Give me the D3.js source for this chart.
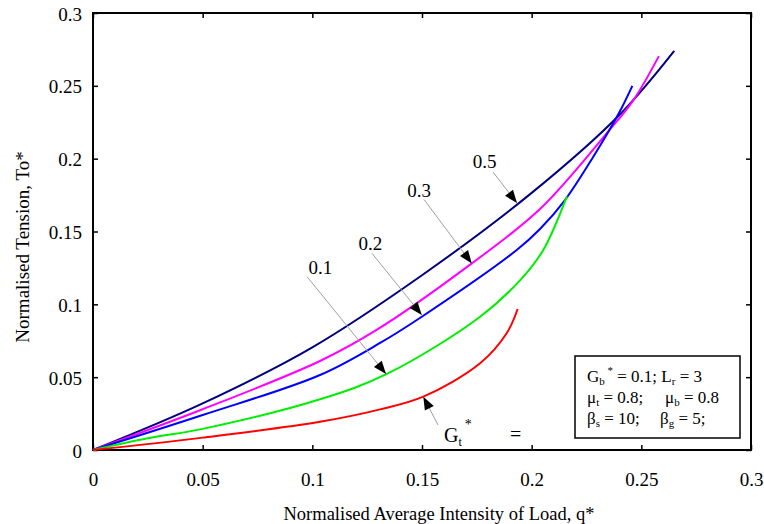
<!DOCTYPE html>
<html lang="en">
  <head>
    <meta charset="utf-8">
    <title>Normalised Tension vs Load</title>
    <script src="https://cdn.jsdelivr.net/npm/d3@7"></script>
    <style>
      body { margin: 0; background: #fff; }
      svg text { font-family: "Liberation Serif", "Times New Roman", Times, "Nimbus Roman", "Nimbus Roman No9 L", Tinos, FreeSerif, "Noto Serif", "DejaVu Serif", serif; fill: #000; }
    </style>
  </head>
  <body>
    <script>
      // curve data: [q*, To*]
      var navy = [[0,0],[0.05,0.032],[0.1,0.0705],[0.15,0.12],[0.2,0.1765],[0.24,0.23],[0.265,0.274]];
      var magenta = [[0,0],[0.05,0.028],[0.1035,0.0611],[0.1293,0.0824],[0.1727,0.1281],[0.2038,0.1654],[0.2342,0.2174],[0.2464,0.2402],[0.258,0.2704]];
      var blue = [[0,0],[0.05,0.024],[0.1035,0.0515],[0.1309,0.0735],[0.1499,0.0915],[0.1932,0.1373],[0.2038,0.1517],[0.2152,0.1716],[0.2281,0.2013],[0.2398,0.2313],[0.2459,0.25]];
      var green = [[0,0],[0.025,0.008],[0.05,0.0145],[0.1035,0.0348],[0.134,0.0522],[0.1765,0.0915],[0.195,0.117],[0.2053,0.1373],[0.2161,0.1743]];
      var red = [[0,0],[0.05,0.0085],[0.1035,0.0194],[0.1309,0.0279],[0.1506,0.0366],[0.1765,0.0595],[0.1886,0.0801],[0.1936,0.0968]];

      var seriesNames = ["0.5", "0.3", "0.2", "0.1", "0"];
      var seriesColors = ["#000080", "#ff00ff", "#0000ff", "#00ee00", "#ff0000"];
      var seriesData = [navy, magenta, blue, green, red];

      var xTicks = [0, 0.05, 0.1, 0.15, 0.2, 0.25, 0.3];
      var yTicks = [0, 0.05, 0.1, 0.15, 0.2, 0.25, 0.3];

      // arrow annotations: label pos, leader start, arrow tip (all in data units)
      var labelPos = [[0.1786, 0.1935], [0.1487, 0.1735], [0.1265, 0.1375], [0.1037, 0.1205]];
      var labelFrom = [[0.1824, 0.1908], [0.1509, 0.172], [0.1272, 0.135], [0.0976, 0.119]];
      var labelTip = [[0.1933, 0.1695], [0.1727, 0.1281], [0.1499, 0.0927], [0.1336, 0.0522]];

      const W = 764, H = 524;
      const L = 93, R = 751, T = 13, B = 450;

      var svg = d3.select("body").append("svg")
        .attr("width", W)
        .attr("height", H);

      var x = d3.scaleLinear().domain([0, 0.3]).range([L, R]);
      var y = d3.scaleLinear().domain([0, 0.3]).range([B, T]);

      var fmt = d3.format("");

      // axes with inward ticks
      var gx = svg.append("g").attr("transform", "translate(0," + B + ")")
        .call(d3.axisBottom(x).tickValues(xTicks).tickSize(-5).tickFormat(fmt));
      gx.attr("font-family", null).attr("font-size", 19);
      gx.selectAll("text").attr("y", 35.5).attr("dy", 0);

      var gy = svg.append("g").attr("transform", "translate(" + L + ",0)")
        .call(d3.axisLeft(y).tickValues(yTicks).tickSize(-5).tickFormat(fmt));
      gy.attr("font-family", null).attr("font-size", 19);
      gy.selectAll("text").attr("x", -11).attr("dy", "0.37em");

      svg.append("g").attr("transform", "translate(0," + T + ")")
        .call(d3.axisTop(x).tickValues(xTicks).tickSize(-5).tickFormat(""));
      svg.append("g").attr("transform", "translate(" + R + ",0)")
        .call(d3.axisRight(y).tickValues(yTicks).tickSize(-5).tickFormat(""));

      svg.selectAll(".domain").remove();
      svg.selectAll(".tick line").attr("stroke", "#000").attr("stroke-width", 1.5);

      svg.append("rect")
        .attr("x", L).attr("y", T)
        .attr("width", R - L).attr("height", B - T)
        .attr("fill", "none")
        .attr("stroke", "#000")
        .attr("stroke-width", 2);

      // curves
      var line = d3.line()
        .x(function(d){ return x(d[0]); })
        .y(function(d){ return y(d[1]); })
        .curve(d3.curveCatmullRom.alpha(0.5));

      svg.selectAll(".curve").data(seriesData).enter().append("path")
        .attr("class", "curve")
        .attr("d", line)
        .attr("fill", "none")
        .attr("stroke", function(d, i){ return seriesColors[i]; })
        .attr("stroke-width", 2);

      // leader line with black arrowhead
      function arrow(from, tip) {
        var x0 = x(from[0]), y0 = y(from[1]);
        var x1 = x(tip[0]), y1 = y(tip[1]);
        svg.append("line")
          .attr("x1", x0).attr("y1", y0).attr("x2", x1).attr("y2", y1)
          .attr("stroke", "#a0a0a0").attr("stroke-width", 1);
        var a = Math.atan2(y1 - y0, x1 - x0);
        var len = 13, half = 5;
        var bx = x1 - len * Math.cos(a), by = y1 - len * Math.sin(a);
        var px = -Math.sin(a) * half, py = Math.cos(a) * half;
        svg.append("path")
          .attr("d", "M" + x1 + "," + y1 + "L" + (bx + px) + "," + (by + py) + "L" + (bx - px) + "," + (by - py) + "Z")
          .attr("fill", "#000");
      }

      for (var i = 0; i < 4; i++) {
        arrow(labelFrom[i], labelTip[i]);
        svg.append("text")
          .attr("x", x(labelPos[i][0]))
          .attr("y", y(labelPos[i][1]))
          .attr("text-anchor", "middle")
          .style("font-size", "19px")
          .text(seriesNames[i]);
      }

      // G_t* annotation for red curve
      arrow([x.invert(438), y.invert(425)], [0.1506, 0.0366]);
      var gt = svg.append("text").attr("x", 444).attr("y", 442).style("font-size", "20px");
      gt.append("tspan").text("G");
      gt.append("tspan").attr("dy", 4).style("font-size", "12px").text("t");
      gt.append("tspan").attr("dy", -17).attr("dx", 3).style("font-size", "14px").text("*");
      gt.append("tspan").attr("x", 510).attr("y", 441).style("font-size", "20px").text("=");

      // parameter box
      svg.append("rect")
        .attr("x", 575).attr("y", 356)
        .attr("width", 165).attr("height", 82)
        .attr("fill", "#fff")
        .attr("stroke", "#000")
        .attr("stroke-width", 1.5);

      function sub(t, main, s, rest, xPos) {
        var m = t.append("tspan").text(main);
        if (xPos != null) m.attr("x", xPos);
        t.append("tspan").attr("dy", 3).style("font-size", "11px").text(s);
        t.append("tspan").attr("dy", -3).text(rest);
      }
      var l1 = svg.append("text").attr("x", 587).attr("y", 382).style("font-size", "17px");
      l1.append("tspan").text("G");
      l1.append("tspan").attr("dy", 3).style("font-size", "11px").text("b");
      l1.append("tspan").attr("dy", -11).style("font-size", "11px").text(" *");
      l1.append("tspan").attr("dy", 8).text(" = 0.1; L");
      l1.append("tspan").attr("dy", 3).style("font-size", "11px").text("r");
      l1.append("tspan").attr("dy", -3).text(" = 3");

      var l2 = svg.append("text").attr("x", 587).attr("y", 403).style("font-size", "17px");
      sub(l2, "\u03bc", "t", " = 0.8;");
      sub(l2, "\u03bc", "b", " = 0.8", 665);

      var l3 = svg.append("text").attr("x", 587).attr("y", 424).style("font-size", "17px");
      sub(l3, "\u03b2", "s", " = 10;");
      sub(l3, "\u03b2", "g", " = 5;", 660);

      // axis titles
      svg.append("text")
        .attr("x", (L + R) / 2 + 17).attr("y", 520)
        .attr("text-anchor", "middle")
        .style("font-size", "18.5px")
        .text("Normalised Average Intensity of Load, q*");

      svg.append("text")
        .attr("transform", "translate(29,247) rotate(-90)")
        .attr("text-anchor", "middle")
        .style("font-size", "19px")
        .text("Normalised Tension, To*");
    </script>
  </body>
</html>
